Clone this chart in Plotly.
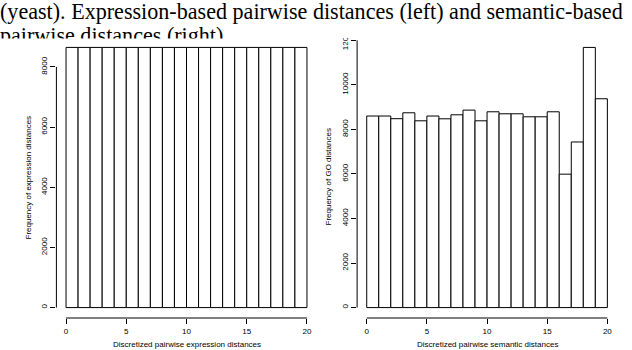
import plotly.graph_objects as go

# ---- data ----
bin_edges = [0, 1, 2, 3, 4, 5, 6, 7, 8, 9, 10, 11, 12, 13, 14, 15, 16, 17, 18, 19, 20]
expr_counts = [8650, 8650, 8650, 8650, 8650, 8650, 8650, 8650, 8650, 8650,
               8650, 8650, 8650, 8650, 8650, 8650, 8650, 8650, 8650, 8650]
go_counts = [8600, 8600, 8480, 8745, 8385, 8600, 8475, 8655, 8865, 8385,
             8790, 8700, 8700, 8565, 8565, 8790, 5990, 7435, 11680, 9375]
x_ticks = [0, 5, 10, 15, 20]
expr_yticks = [0, 2000, 4000, 6000, 8000]
go_yticks = [0, 2000, 4000, 6000, 8000, 10000, 12000]
caption_lines = ["(yeast). Expression-based pairwise distances (left) and semantic-based",
                 "pairwise distances (right)"]
left_xtitle = "Discretized pairwise expression distances"
left_ytitle = "Frequency of expression distances"
right_xtitle = "Discretized pairwise semantic distances"
right_ytitle = "Frequency of GO distances"

W, H = 632, 350
mids = [(a + b) / 2 for a, b in zip(bin_edges[:-1], bin_edges[1:])]
widths = [b - a for a, b in zip(bin_edges[:-1], bin_edges[1:])]

xpad = 0.04 * (bin_edges[-1] - bin_edges[0])
xr = [bin_edges[0] - xpad, bin_edges[-1] + xpad]


def yr(vals):
    m = max(vals)
    return [-0.04 * m, 1.04 * m]


def px(x):
    return x / W


def py(y):
    return 1 - y / H


ydom = [py(318), py(37)]
left_dom = [px(56.4), px(316.6)]
right_dom = [px(357.1), px(617.0)]

fig = go.Figure()
bar_style = dict(color="white", line=dict(color="black", width=1))
fig.add_trace(go.Bar(x=mids, y=expr_counts, width=widths, marker=bar_style,
                     xaxis="x", yaxis="y", hoverinfo="skip"))
fig.add_trace(go.Bar(x=mids, y=go_counts, width=widths, marker=bar_style,
                     xaxis="x2", yaxis="y2", hoverinfo="skip"))
fig.add_trace(go.Scatter(x=[0, 0], y=[13, 37.5], text=caption_lines, mode="text",
                         textposition="middle right", cliponaxis=True,
                         textfont=dict(family="Liberation Serif", size=22.1, color="black"),
                         xaxis="x3", yaxis="y3", hoverinfo="skip"))

tickfont = dict(family="Liberation Sans", size=8, color="black")
xcommon = dict(range=xr, tickvals=x_ticks, ticks="outside", ticklen=5, tickwidth=1,
               tickcolor="black", showgrid=False, zeroline=False, showline=False,
               tickfont=tickfont, fixedrange=True, automargin=False)
ycommon = dict(domain=ydom, ticks="outside", ticklen=5, tickwidth=1, tickcolor="black",
               showgrid=False, zeroline=False, showline=False, tickangle=-90,
               tickformat="d", tickfont=tickfont, fixedrange=True, automargin=False)

fig.update_layout(
    template="none",
    width=W, height=H, margin=dict(l=0, r=0, t=0, b=0, pad=0, autoexpand=False),
    paper_bgcolor="white", plot_bgcolor="rgba(0,0,0,0)",
    showlegend=False, bargap=0, hovermode=False,
    xaxis=dict(domain=left_dom, anchor="y", **xcommon),
    yaxis=dict(range=yr(expr_counts), tickvals=expr_yticks, anchor="x", **ycommon),
    xaxis2=dict(domain=right_dom, anchor="y2", **xcommon),
    yaxis2=dict(range=yr(go_counts), tickvals=go_yticks, anchor="x2", **ycommon),
    xaxis3=dict(domain=[0, 1], range=[0, W], visible=False, anchor="y3",
                fixedrange=True, automargin=False),
    yaxis3=dict(domain=[py(38.5), 1], range=[38.5, 0], visible=False, anchor="x3",
                fixedrange=True, automargin=False),
)

line = dict(color="black", width=1)
shapes = [
    dict(type="line", xref="x", yref="y domain", x0=x_ticks[0], x1=x_ticks[-1], y0=0, y1=0, line=line),
    dict(type="line", xref="x domain", yref="y", x0=0, x1=0, y0=expr_yticks[0], y1=expr_yticks[-1], line=line),
    dict(type="line", xref="x2", yref="y2 domain", x0=x_ticks[0], x1=x_ticks[-1], y0=0, y1=0, line=line),
    dict(type="line", xref="x2 domain", yref="y2", x0=0, x1=0, y0=go_yticks[0], y1=go_yticks[-1], line=line),
    dict(type="rect", xref="paper", yref="paper", x0=px(336), x1=px(352), y0=py(38), y1=py(24),
         fillcolor="white", line=dict(width=0), layer="above"),
]
fig.update_layout(shapes=shapes)

tfont = dict(family="Liberation Sans", size=8, color="black")
ann = [
    dict(text=left_xtitle, x=(left_dom[0] + left_dom[1]) / 2, y=py(344), xref="paper", yref="paper",
         showarrow=False, font=tfont, xanchor="center", yanchor="middle"),
    dict(text=right_xtitle, x=(right_dom[0] + right_dom[1]) / 2, y=py(344), xref="paper", yref="paper",
         showarrow=False, font=tfont, xanchor="center", yanchor="middle"),
    dict(text=left_ytitle, x=px(28), y=(ydom[0] + ydom[1]) / 2, xref="paper", yref="paper",
         showarrow=False, font=tfont, textangle=-90, xanchor="center", yanchor="middle"),
    dict(text=right_ytitle, x=px(328), y=(ydom[0] + ydom[1]) / 2, xref="paper", yref="paper",
         showarrow=False, font=tfont, textangle=-90, xanchor="center", yanchor="middle"),
]
fig.update_layout(annotations=ann)

fig.write_html("out.html", config={"displayModeBar": False, "staticPlot": True},
               post_script="document.body.style.margin='0';document.body.style.padding='0';")
